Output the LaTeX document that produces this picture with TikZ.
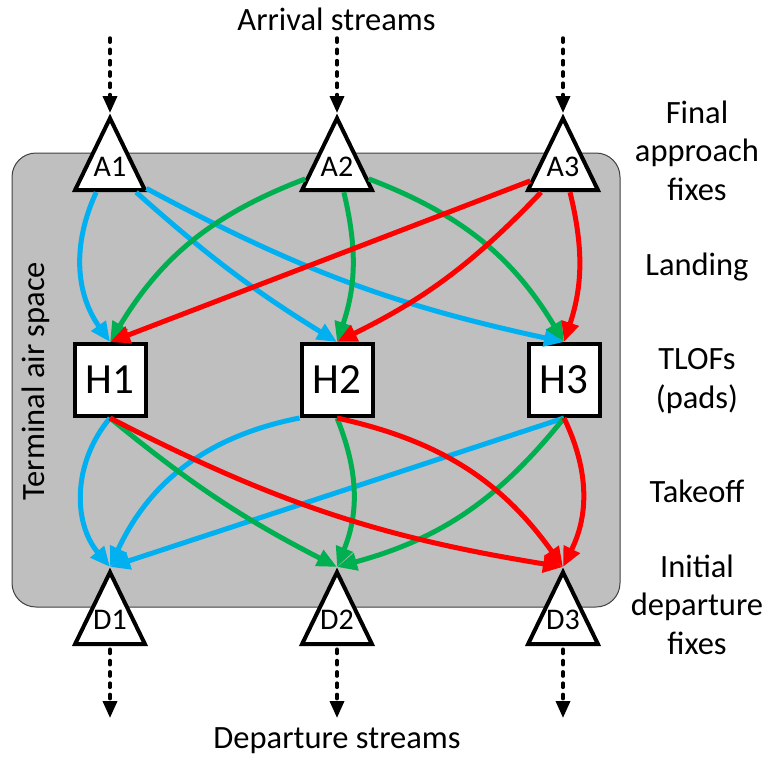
\documentclass[tikz,border=0pt]{standalone}
\usepackage{fontspec}
\setmainfont{Carlito}
\usetikzlibrary{arrows.meta,shapes.geometric}

\definecolor{flowblue}{RGB}{0,176,240}
\definecolor{flowgreen}{RGB}{0,176,80}
\definecolor{flowred}{RGB}{255,0,0}
\definecolor{zonegray}{RGB}{191,191,191}
\definecolor{zoneedge}{RGB}{64,64,64}

% stacked, centred lines whose baseline is that of the first line
\newcommand\labelstack[1]{\begin{tabular}[t]{@{}c@{}}#1\end{tabular}}

\tikzset{
  lbl/.style={font=\fontsize{32.5}{38.5}\selectfont, inner sep=0pt, anchor=base},
  fixlbl/.style={font=\fontsize{30}{30}\selectfont, inner sep=0pt, anchor=base},
  zone/.style={draw=zoneedge, line width=1pt, fill=zonegray, rounded corners=24pt,
    minimum width=608pt, minimum height=454pt, inner sep=0pt},
  fixtri/.style={isosceles triangle, isosceles triangle stretches,
    shape border rotate=90, minimum width=70pt, minimum height=72pt,
    inner sep=0pt, draw, line width=4pt, fill=white, line join=miter},
  pad/.style={draw, line width=4pt, fill=white, minimum width=71pt,
    minimum height=72pt, inner sep=0pt, font=\fontsize{43}{43}\selectfont},
  flow/.style={line width=5pt, -{Triangle[length=20pt,width=17pt]}},
  stream/.style={line width=3.5pt, line cap=round, dash pattern=on 4.2pt off 7.1pt,
    -{Triangle[length=17pt,width=14pt]}},
}

\begin{document}
\begin{tikzpicture}[x=1pt,y=1pt]
\useasboundingbox (0,0) rectangle (763,-756);

% terminal air space
\node[zone] (area) at (316,-380) {};
\node[lbl, rotate=90] (tas) at (44,-381) {Terminal air space};

% final approach fixes, pads, initial departure fixes
\node[fixtri, anchor=apex] (A1) at (110,-113) {};
\node[fixtri, anchor=apex] (A2) at (337,-113) {};
\node[fixtri, anchor=apex] (A3) at (563,-113) {};
\node[fixlbl] (A1t) at (110,-176) {A1};
\node[fixlbl] (A2t) at (337,-176) {A2};
\node[fixlbl] (A3t) at (563,-176) {A3};

\node[pad] (H1) at (110,-380) {H1};
\node[pad] (H2) at (337,-380) {H2};
\node[pad] (H3) at (564,-380) {H3};

\node[fixtri, anchor=apex] (D1) at (110,-567) {};
\node[fixtri, anchor=apex] (D2) at (337,-567) {};
\node[fixtri, anchor=apex] (D3) at (563,-567) {};
\node[fixlbl] (D1t) at (110,-629) {D1};
\node[fixlbl] (D2t) at (337,-629) {D2};
\node[fixlbl] (D3t) at (563,-629) {D3};

% arrival and departure streams
\coordinate (in1) at (110,-38);
\coordinate (in2) at (337,-38);
\coordinate (in3) at (563,-38);
\coordinate (out1) at (110,-718);
\coordinate (out2) at (337,-718);
\coordinate (out3) at (563,-718);
\foreach \i in {1,2,3}{
  \draw[stream] (in\i) -- (A\i.apex);
  \draw[stream, shorten <=3pt] (D\i.south) -- (out\i);
}

% landing
\draw[flow, flowblue] (A1) to[bend right=30] (H1.north);
\draw[flow, flowblue] (A1) to[bend right=5] (H2.north);
\draw[flow, flowblue] (A1) to[bend right=8] (H3.north);
\draw[flow, flowgreen] (A2) to[bend right=19] (H1.north);
\draw[flow, flowgreen] (A2) to[bend left=16] (H2.north);
\draw[flow, flowgreen] (A2) to[bend left=19] (H3.north);
\draw[flow, flowred] (A3) -- (H1.north);
\draw[flow, flowred] (A3) to[bend left=10] (H2.north);
\draw[flow, flowred] (A3) to[bend left=16] (H3.north);

% takeoff
\draw[flow, flowblue] (H1.south) to[bend right=40] (D1.apex);
\draw[flow, flowblue] (H2.south west) to[bend right=27] (D1.apex);
\draw[flow, flowblue] (H3.south) -- (D1.apex);
\draw[flow, flowgreen] (H1.south) to[bend right=6] (D2.apex);
\draw[flow, flowgreen] (H2.south) to[bend left=22] (D2.apex);
\draw[flow, flowgreen] (H3.south) to[bend left=18] (D2.apex);
\draw[flow, flowred] (H1.south) to[bend right=9] (D3.apex);
\draw[flow, flowred] (H2.south) to[bend left=21] (D3.apex);
\draw[flow, flowred] (H3.south) to[bend left=26] (D3.apex);

% captions
\node[lbl] (arr) at (336.5,-30) {Arrival streams};
\node[lbl] (dep) at (337,-748) {Departure streams};
\node[lbl] (faf) at (697,-123) {\labelstack{Final\\approach\\fixes}};
\node[lbl] (lnd) at (697,-275) {Landing};
\node[lbl] (tlof) at (697,-369.5) {\labelstack{TLOFs\\(pads)}};
\node[lbl] (tko) at (697,-502.5) {Takeoff};
\node[lbl] (idf) at (697,-577.3) {\labelstack{Initial\\departure\\fixes}};
\end{tikzpicture}
\end{document}
